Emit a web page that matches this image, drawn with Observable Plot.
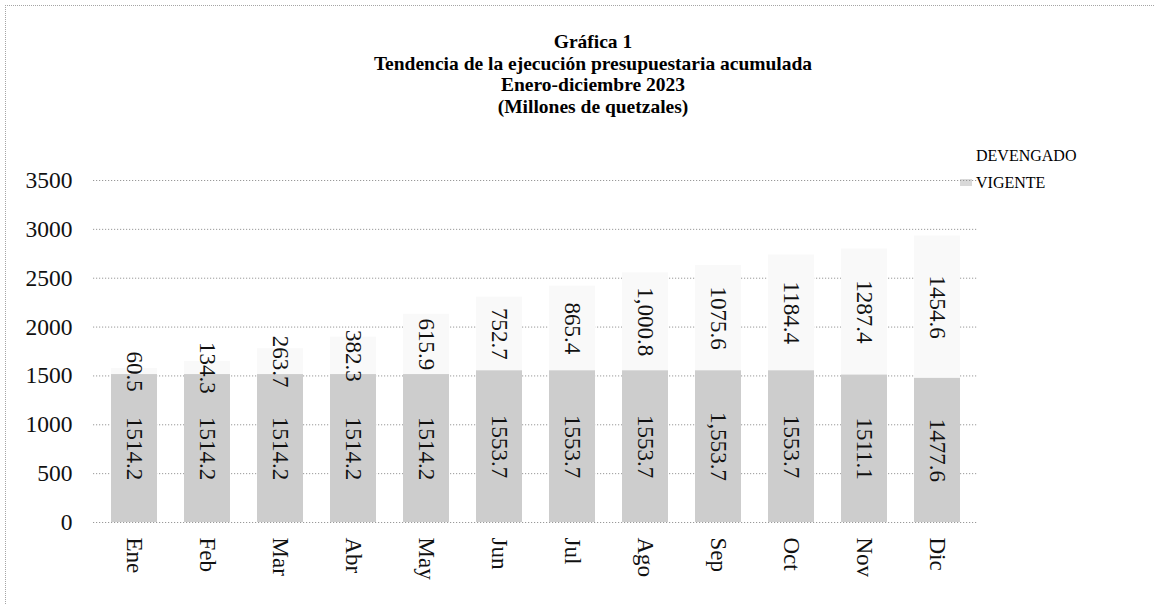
<!DOCTYPE html>
<html>
<head>
<meta charset="utf-8">
<script src="https://cdn.jsdelivr.net/npm/d3@7"></script>
<script src="https://cdn.jsdelivr.net/npm/@observablehq/plot@0.6"></script>
<style>
  html, body { margin: 0; padding: 0; background: #fff; }
  #page { position: relative; width: 1154px; height: 604px; overflow: hidden; font-family: "Liberation Serif", "DejaVu Serif", serif; }
  #frame { position: absolute; left: 5px; top: 5px; width: 1160px; height: 620px; border-left: 1px dotted #a5a5a5; border-top: 1px dotted #a5a5a5; }
  #title { position: absolute; left: 243px; width: 700px; top: 31px; text-align: center; font-weight: bold; font-size: 19.5px; line-height: 21.5px; color: #000; }
  #legend { position: absolute; left: 960px; top: 142px; font-size: 16px; line-height: 27px; color: #000; }
  #legend .item { display: flex; align-items: center; }
  #legend .sw { display: inline-block; width: 12px; height: 7px; margin-right: 4px; }
  #chart { position: absolute; left: 0; top: 130px; }
</style>
</head>
<body>
<div id="page">
  <div id="frame"></div>
  <div id="title">Gráfica 1<br>Tendencia de la ejecución presupuestaria acumulada<br>Enero-diciembre 2023<br>(Millones de quetzales)</div>
  <div id="legend">
    <div class="item"><span class="sw" style="background:#ffffff"></span>DEVENGADO</div>
    <div class="item"><span class="sw" style="background:#d9d9d9"></span>VIGENTE</div>
  </div>
  <div id="chart"></div>
</div>
<script>
const months = ["Ene", "Feb", "Mar", "Abr", "May", "Jun", "Jul", "Ago", "Sep", "Oct", "Nov", "Dic"];
const vigente = [1514.2, 1514.2, 1514.2, 1514.2, 1514.2, 1553.7, 1553.7, 1553.7, 1553.7, 1553.7, 1511.1, 1477.6];
const devengado = [60.5, 134.3, 263.7, 382.3, 615.9, 752.7, 865.4, 1000.8, 1075.6, 1184.4, 1287.4, 1454.6];
const vigenteLabels = ["1514.2", "1514.2", "1514.2", "1514.2", "1514.2", "1553.7", "1553.7", "1553.7", "1,553.7", "1553.7", "1511.1", "1477.6"];
const devengadoLabels = ["60.5", "134.3", "263.7", "382.3", "615.9", "752.7", "865.4", "1,000.8", "1075.6", "1184.4", "1287.4", "1454.6"];
const yTicks = [0, 500, 1000, 1500, 2000, 2500, 3000, 3500];
const seriesNames = ["VIGENTE", "DEVENGADO"];

const data = [
  ...months.map((m, i) => ({month: m, serie: seriesNames[0], value: vigente[i], label: vigenteLabels[i]})),
  ...months.map((m, i) => ({month: m, serie: seriesNames[1], value: devengado[i], label: devengadoLabels[i]}))
];

const chart = Plot.plot({
  width: 1154,
  height: 470,
  marginTop: 50,
  marginBottom: 78,
  marginLeft: 93,
  marginRight: 177,
  style: {fontFamily: "'Liberation Serif', serif", background: "transparent"},
  x: {domain: months, paddingInner: 0.375, paddingOuter: 0.1875, label: null},
  y: {domain: [0, 3500], label: null},
  color: {domain: seriesNames, range: ["#cdcdcd", "#f9f9f9"]},
  marks: [
    Plot.ruleY(yTicks, {stroke: "#999", strokeDasharray: "1.2,1.8", strokeWidth: 1}),
    Plot.barY(data, Plot.stackY({x: "month", y: "value", z: "serie", fill: "serie"})),
    Plot.text(data, Plot.stackY({x: "month", y: "value", z: "serie", text: "label", rotate: 90, textAnchor: "middle", fontSize: 23, fill: "#111"})),
    Plot.axisY(yTicks, {tickSize: 0, tickPadding: 21, fontSize: 23.5, fill: "#111", tickFormat: d => String(d)}),
    Plot.axisX({tickSize: 0, tickPadding: 15, tickRotate: 90, fontSize: 23, fill: "#111"})
  ]
});
document.getElementById("chart").appendChild(chart);
</script>
</body>
</html>
